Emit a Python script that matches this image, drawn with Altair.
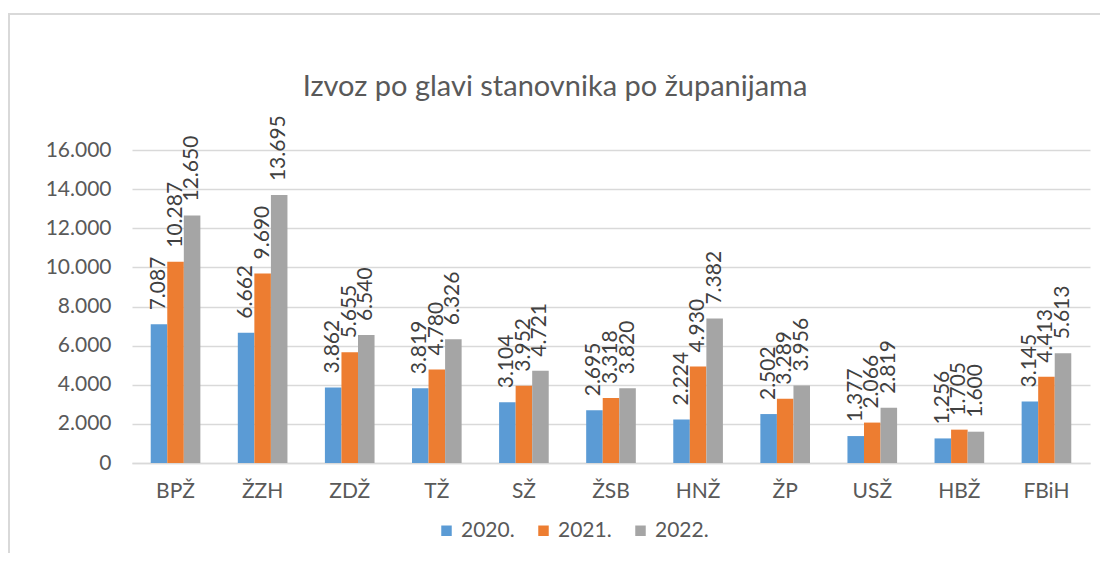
import altair as alt
import pandas as pd

categories = ["BPŽ", "ŽZH", "ZDŽ", "TŽ", "SŽ", "ŽSB", "HNŽ", "ŽP", "USŽ", "HBŽ", "FBiH"]
series = ["2020.", "2021.", "2022."]
v2020 = [7087, 6662, 3862, 3819, 3104, 2695, 2224, 2502, 1377, 1256, 3145]
v2021 = [10287, 9690, 5655, 4780, 3952, 3318, 4930, 3289, 2066, 1705, 4413]
v2022 = [12650, 13695, 6540, 6326, 4721, 3820, 7382, 3956, 2819, 1600, 5613]
colors = ["#5B9BD5", "#ED7D31", "#A5A5A5"]

rows = []
for s, vals in zip(series, [v2020, v2021, v2022]):
    for c, v in zip(categories, vals):
        rows.append({"cat": c, "year": s, "value": v, "label": f"{v:,}".replace(",", ".")})
df = pd.DataFrame(rows)

FONT = "Lato"
TXT = "#595959"
FS = 21

base = alt.Chart(df).encode(
    x=alt.X("cat:N", sort=categories, title=None,
            scale=alt.Scale(paddingInner=0.43, paddingOuter=0.215),
            axis=alt.Axis(labelAngle=0, labelFontSize=FS, labelColor=TXT, labelFont=FONT,
                          domain=True, domainColor="#d9d9d9", domainWidth=1.5,
                          ticks=False, labelPadding=17)),
    xOffset=alt.XOffset("year:N", sort=series),
    y=alt.Y("value:Q", title=None,
            scale=alt.Scale(domain=[0, 16000]),
            axis=alt.Axis(values=list(range(0, 16001, 2000)),
                          labelExpr="replace(format(datum.value, ',d'), ',', '.')",
                          labelFontSize=FS, labelColor=TXT, labelFont=FONT,
                          domain=False, ticks=False, labelPadding=21,
                          grid=True, gridColor="#d9d9d9", gridWidth=1.5)),
)

bars = base.mark_bar().encode(
    color=alt.Color("year:N", sort=series, scale=alt.Scale(domain=series, range=colors),
                    legend=alt.Legend(title=None, orient="none", direction="horizontal",
                                      legendX=304, legendY=370,
                                      symbolType="square", symbolSize=110,
                                      symbolStrokeWidth=0,
                                      labelFontSize=FS, labelColor=TXT, labelFont=FONT,
                                      columnPadding=18, labelOffset=4)),
)

labels = base.mark_text(angle=270, align="left", baseline="middle", dx=14,
                        fontSize=FS, font=FONT, color="#404040").encode(
    text="label:N",
)

frame = alt.Chart(pd.DataFrame({"a": [0]})).mark_rect(
    fill=None, stroke="#d9d9d9", strokeWidth=2, clip=False
).encode(
    x=alt.value(-123), x2=alt.value(1000), y=alt.value(-136), y2=alt.value(430)
)

chart = alt.layer(frame, bars, labels).properties(
    width=958, height=313,
    autosize=alt.AutoSizeParams(type="none"),
    padding={"left": 124, "top": 142, "right": 10, "bottom": 90},
    title=alt.TitleParams("Izvoz po glavi stanovnika po županijama",
                          font=FONT, fontSize=29, fontWeight="normal", color=TXT,
                          anchor="middle", dx=-56, offset=-89),
).configure_view(stroke=None)

chart.save("out.html", embed_options={"renderer": "svg", "actions": False})
